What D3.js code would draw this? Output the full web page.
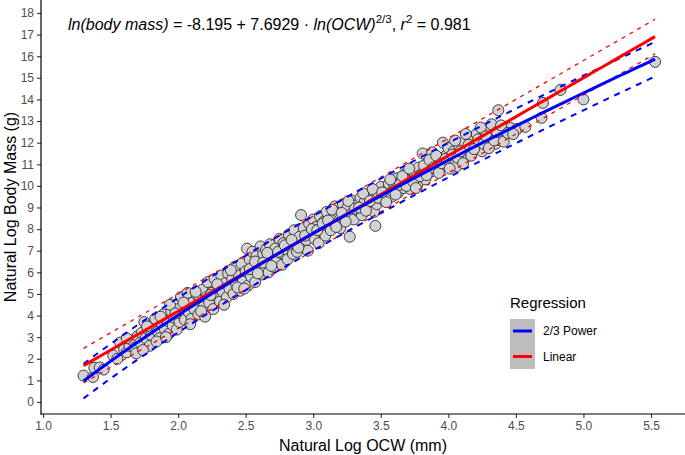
<!DOCTYPE html>
<html><head><meta charset="utf-8">
<script src="https://cdn.jsdelivr.net/npm/d3@7"></script>
<style>body{margin:0;background:#fff}svg{display:block;font-family:"Liberation Sans",Arial,sans-serif}</style>
</head><body><svg id="c" width="685" height="455"></svg>
<script>
// ---- data ----
const lnOCW = [1.30,1.37,1.38,1.42,1.45,1.52,1.55,1.57,1.60,1.62,1.64,1.66,1.68,1.70,1.72,1.73,1.75,1.76,1.78,1.79,1.80,1.82,1.83,1.85,1.86,1.88,1.89,1.90,1.92,1.93,1.95,1.96,1.97,1.99,2.00,2.01,2.02,2.03,2.05,2.06,2.07,2.08,2.10,2.11,2.12,2.14,2.15,2.16,2.18,2.19,2.20,2.21,2.22,2.23,2.25,2.26,2.27,2.28,2.30,2.31,2.32,2.33,2.35,2.36,2.37,2.38,2.40,2.41,2.42,2.43,2.45,2.46,2.47,2.48,2.50,2.51,2.52,2.53,2.54,2.55,2.56,2.57,2.58,2.60,2.61,2.62,2.63,2.64,2.65,2.66,2.67,2.68,2.70,2.71,2.72,2.73,2.75,2.76,2.77,2.78,2.80,2.81,2.82,2.83,2.85,2.86,2.87,2.88,2.90,2.91,2.92,2.93,2.95,2.96,2.97,2.98,3.00,3.01,3.02,3.04,3.05,3.06,3.08,3.09,3.10,3.12,3.13,3.15,3.16,3.18,3.19,3.20,3.22,3.23,3.25,3.27,3.28,3.29,3.30,3.32,3.33,3.35,3.36,3.38,3.40,3.41,3.43,3.45,3.46,3.47,3.49,3.50,3.52,3.55,3.55,3.56,3.58,3.60,3.62,3.63,3.65,3.67,3.68,3.70,3.72,3.73,3.75,3.77,3.78,3.80,3.81,3.83,3.85,3.87,3.88,3.90,3.92,3.94,3.96,3.97,3.99,4.00,4.02,4.04,4.06,4.08,4.10,4.12,4.14,4.16,4.18,4.20,4.21,4.23,4.25,4.27,4.29,4.31,4.33,4.35,4.37,4.37,4.40,4.42,4.46,4.51,4.57,4.69,4.70,4.83,5.00,5.53,
 1.62,1.69,1.74,1.77,1.84,1.87,1.91,1.94,1.98,2.04,2.09,2.13,2.17,2.24,2.29,2.34,2.39,2.44,2.49,2.53,2.57,2.59,2.63,2.66,2.69,2.74,2.79,2.84,2.89,2.94,2.99,3.03,3.07,3.11,3.14,3.17,3.21,3.24,3.26,3.31,3.34,3.37,3.39,3.42,3.44,3.48,3.51,3.54,3.57,3.59,3.61,3.64,3.66,3.69,3.71,3.74,3.76,3.79,3.82,3.84,3.86,3.89,3.91,3.93,3.95,3.98,4.01,4.03,4.05,4.07,4.09,4.11,4.13,4.15,4.17,4.19,4.22,4.24,4.26,4.28,4.30,4.32,4.34,4.36,4.39,4.41,4.44,4.48];
const lnMass = [1.22,1.16,1.58,1.60,1.50,2.15,2.00,2.75,2.45,2.30,2.60,2.85,2.50,3.05,2.75,3.20,3.70,2.95,3.35,2.60,3.10,3.55,3.85,3.25,2.95,3.60,4.05,3.40,3.75,3.15,4.20,3.55,3.90,3.35,4.30,3.70,4.85,4.05,3.80,4.45,5.05,4.15,3.85,4.60,4.30,4.95,4.05,4.70,5.20,4.40,3.95,4.85,5.55,4.60,5.05,4.30,5.70,4.90,5.30,4.65,5.85,5.10,5.50,4.85,5.95,5.25,5.70,5.00,6.25,5.45,5.85,5.15,6.40,5.60,6.05,7.10,5.40,6.60,5.80,6.95,6.20,5.55,6.75,6.40,7.20,5.90,6.85,6.10,7.05,6.55,6.00,7.30,6.75,6.25,7.10,6.50,7.55,6.90,6.35,7.35,7.05,6.60,7.75,7.20,6.85,7.95,7.40,6.95,7.65,8.65,7.25,8.05,7.50,7.00,8.25,7.80,8.45,7.55,8.10,7.35,8.60,7.90,8.35,7.70,8.80,8.15,7.95,8.55,9.05,8.30,8.75,8.05,9.15,8.50,8.95,7.65,8.70,9.30,8.45,9.10,8.85,9.45,8.65,9.25,9.60,8.95,9.40,8.80,8.15,9.15,9.55,9.95,9.35,9.50,9.80,10.10,9.50,10.00,10.35,9.70,10.20,9.90,10.55,10.25,9.85,10.70,10.40,10.05,10.85,10.55,11.50,10.30,10.95,10.65,11.55,11.10,10.75,11.30,12.00,10.95,11.45,11.75,11.15,11.60,10.90,11.85,11.40,12.05,11.65,12.25,12.13,11.85,12.40,12.00,11.60,12.50,12.20,12.65,12.35,11.95,12.13,13.50,12.27,12.55,12.68,12.64,12.73,13.15,13.84,14.44,14.00,15.74,
 2.95,2.25,2.40,3.50,2.80,3.95,3.00,4.50,4.10,4.60,3.60,5.10,4.20,4.95,5.45,4.50,6.10,5.30,5.25,6.15,6.50,5.95,6.45,6.90,6.30,6.95,7.25,7.50,7.15,7.70,8.00,7.95,8.25,8.40,8.90,8.10,8.75,8.35,9.30,8.95,9.00,9.65,8.85,9.30,9.85,9.45,9.70,9.25,10.30,9.75,9.60,10.05,10.45,10.00,10.80,10.20,9.90,10.45,10.95,10.50,11.20,10.85,11.40,10.60,11.05,11.25,10.80,11.45,12.10,11.30,11.60,11.05,12.40,11.90,11.40,11.70,12.15,12.70,11.95,12.30,11.75,12.85,12.10,12.50,12.80,12.05,12.45,12.40];
const xTicks = [1.0,1.5,2.0,2.5,3.0,3.5,4.0,4.5,5.0,5.5];
const yTicks = [0,1,2,3,4,5,6,7,8,9,10,11,12,13,14,15,16,17,18];
// fitted models
const powerCoef = [-8.195, 7.6929];   // ln(mass) = a + b * lnOCW^(2/3)
const linearCoef = [-3.0, 3.6];       // ln(mass) = a + b * lnOCW
const predHalfWidth = [0.8, 0.8];     // [power, linear] prediction band half-widths
const fitRange = [1.30, 5.53];
const seriesNames = ["2/3 Power", "Linear"];
const seriesColors = ["#0000ff", "#ff0000"];

// ---- chart ----
const svg = d3.select("#c");
const x = d3.scaleLinear().domain([1, 5.5]).range([43, 651]);
const y = d3.scaleLinear().domain([0, 18]).range([402, 13]);
const panel = {left: 41, right: 685, top: 0, bottom: 414};

// axes
const xAxis = svg.append("g").attr("transform", `translate(0,${panel.bottom})`)
  .call(d3.axisBottom(x).tickValues(xTicks).tickFormat(d3.format(".1f")).tickSizeOuter(0).tickSize(4).tickPadding(3));
const yAxis = svg.append("g").attr("transform", `translate(${panel.left},0)`)
  .call(d3.axisLeft(y).tickValues(yTicks).tickSizeOuter(0).tickSize(4).tickPadding(3));
[xAxis, yAxis].forEach(g => {
  g.select(".domain").remove();
  g.selectAll(".tick line").attr("stroke", "#333").attr("stroke-width", 1.1);
  g.selectAll(".tick text").attr("fill", "#4d4d4d").style("font-size", "12px").style("font-family", '"Liberation Sans",Arial,sans-serif');
});
svg.append("line").attr("x1", panel.left).attr("x2", panel.left).attr("y1", panel.top).attr("y2", panel.bottom + 0.5).attr("stroke", "#000").attr("stroke-width", 1.2);
svg.append("line").attr("x1", panel.left - 0.5).attr("x2", panel.right).attr("y1", panel.bottom).attr("y2", panel.bottom).attr("stroke", "#000").attr("stroke-width", 1.2);

svg.append("text").attr("x", (panel.left + panel.right) / 2).attr("y", 451).attr("text-anchor", "middle")
  .style("font-size", "16px").text("Natural Log OCW (mm)");
svg.append("text").attr("transform", `translate(16,${(panel.top + panel.bottom) / 2}) rotate(-90)`).attr("text-anchor", "middle")
  .style("font-size", "16px").text("Natural Log Body Mass (g)");

// points
const pts = lnOCW.map((v, i) => [v, lnMass[i]]);
svg.append("g").selectAll("circle").data(pts).join("circle")
  .attr("cx", d => x(d[0])).attr("cy", d => y(d[1])).attr("r", 5.5)
  .attr("fill", "#d3d3d3").attr("stroke", "#2b2b2b").attr("stroke-width", 0.9);

// fits
const powerFn = v => powerCoef[0] + powerCoef[1] * Math.pow(v, 2 / 3);
const linFn = v => linearCoef[0] + linearCoef[1] * v;
const xs = d3.range(0, 101).map(i => fitRange[0] + (fitRange[1] - fitRange[0]) * i / 100);
const line = d3.line().x(d => x(d[0])).y(d => y(d[1]));
function drawFit(fn, hw, color, dashW, dash) {
  [hw, -hw].forEach(o => {
    svg.append("path").attr("d", line(xs.map(v => [v, fn(v) + o]))).attr("fill", "none")
      .attr("stroke", color).attr("stroke-width", dashW).attr("stroke-dasharray", dash);
  });
}
drawFit(linFn, predHalfWidth[1], seriesColors[1], 1.3, "4,5");
drawFit(powerFn, predHalfWidth[0], seriesColors[0], 2, "6,6");
svg.append("path").attr("d", line(xs.map(v => [v, linFn(v)]))).attr("fill", "none").attr("stroke", seriesColors[1]).attr("stroke-width", 3);
svg.append("path").attr("d", line(xs.map(v => [v, powerFn(v)]))).attr("fill", "none").attr("stroke", seriesColors[0]).attr("stroke-width", 3);

// equation
const eq = svg.append("text").attr("x", 68).attr("y", 30).style("font-size", "16px");
eq.append("tspan").style("font-style", "italic").text("ln(body mass)");
eq.append("tspan").text(" = -8.195 + 7.6929 · ");
eq.append("tspan").style("font-style", "italic").text("ln(OCW)");
eq.append("tspan").attr("dy", -7).style("font-size", "11.5px").text("2/3");
eq.append("tspan").attr("dy", 7).text(",  ");
eq.append("tspan").style("font-style", "italic").text("r");
eq.append("tspan").attr("dy", -7).style("font-size", "11.5px").text("2");
eq.append("tspan").attr("dy", 7).text(" = 0.981");

// legend
const lg = svg.append("g");
lg.append("text").attr("x", 510).attr("y", 308).style("font-size", "15px").text("Regression");
lg.append("rect").attr("x", 510).attr("y", 319).attr("width", 25).attr("height", 50).attr("fill", "#bebebe");
seriesNames.forEach((n, i) => {
  const yy = 331 + i * 25.5;
  lg.append("line").attr("x1", 513).attr("x2", 532).attr("y1", yy).attr("y2", yy).attr("stroke", seriesColors[i]).attr("stroke-width", 3);
  lg.append("text").attr("x", 543).attr("y", yy).attr("dy", "0.35em").style("font-size", "12px").text(n);
});
</script></body></html>
